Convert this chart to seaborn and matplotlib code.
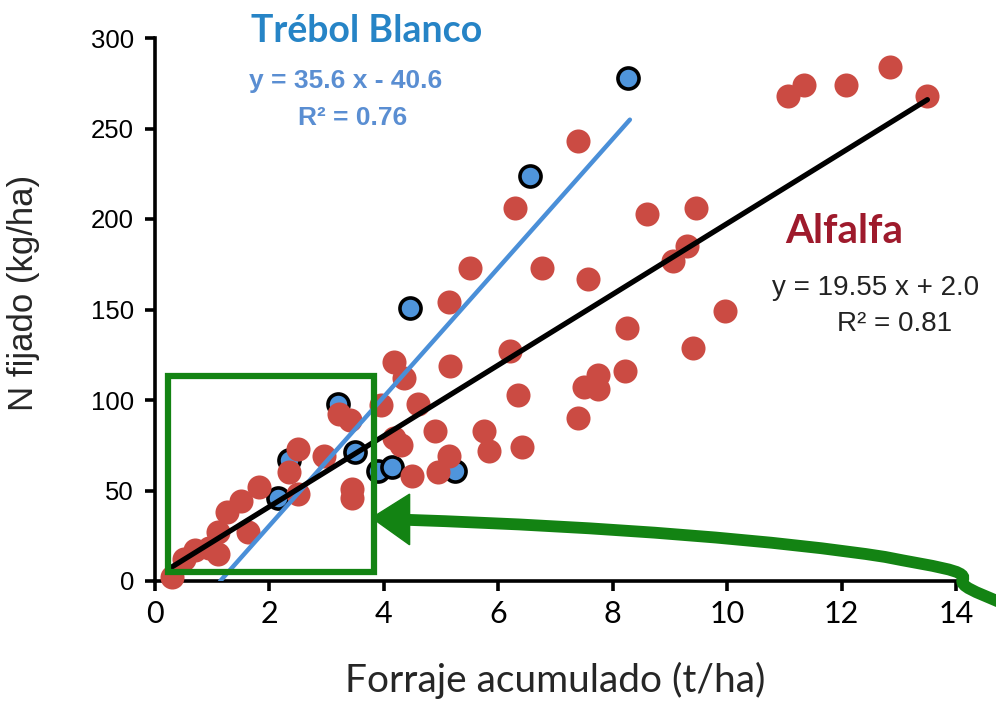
import numpy as np
import pandas as pd
import matplotlib
matplotlib.use("Agg")
import matplotlib.pyplot as plt
import seaborn as sns
from matplotlib.patches import Rectangle, Polygon, PathPatch
from matplotlib.path import Path

# ---------------- data ----------------
trebol_x = [2.15, 2.35, 3.2, 3.5, 3.9, 4.15, 4.45, 5.25, 6.55, 8.27]
trebol_y = [46, 67, 98, 71, 61, 63, 151, 61, 224, 278]

alfalfa_x = [0.3, 0.5, 0.7, 0.95, 1.1, 1.1, 1.25, 1.5, 1.62, 1.82,
             2.35, 2.5, 2.5, 2.95, 3.22, 3.4, 3.45, 3.45, 3.95, 4.17,
             4.35, 4.6, 4.17, 4.3, 4.5, 4.95, 5.13, 5.15, 5.13, 5.5,
             5.75, 5.83, 6.2, 6.3, 6.35, 6.42, 6.77, 7.4, 7.4, 7.5,
             7.57, 7.75, 7.75, 8.22, 8.25, 8.6, 9.05, 9.3, 9.45, 9.4,
             9.97, 11.07, 11.34, 12.08, 12.85, 13.5, 4.9]
alfalfa_y = [2, 12, 17, 18, 15, 27, 38, 44, 27, 52,
             60, 73, 48, 69, 92, 89, 51, 46, 97, 121,
             112, 98, 79, 75, 58, 60, 69, 119, 154, 173,
             83, 72, 127, 206, 103, 74, 173, 243, 90, 107,
             167, 114, 106, 116, 140, 203, 177, 185, 206, 129,
             149, 268, 274, 274, 284, 268, 83]

# regression equations shown on chart
trebol_slope, trebol_icpt, trebol_r2 = 35.6, -40.6, 0.76
trebol_range = [1.14, 8.3]
alfalfa_slope, alfalfa_icpt, alfalfa_r2 = 19.55, 2.0, 0.81
alfalfa_range = [0.3, 13.5]

x_ticks = [0, 2, 4, 6, 8, 10, 12, 14]
y_ticks = [0, 50, 100, 150, 200, 250, 300]

# ---------------- style ----------------
sns.set_theme(style="white")
plt.rcParams['font.family'] = ['Liberation Sans', 'DejaVu Sans']

RED = '#CB4B43'
BLUE_PT = '#4F95DC'
BLUE_LINE = '#4A8FD8'
GREEN = '#138313'

fig = plt.figure(figsize=(9.96, 7.02), dpi=100)
ax = fig.add_axes([155/996, 1 - 581/702, (956-155)/996, (581-38)/702])

df_t = pd.DataFrame({'x': trebol_x, 'y': trebol_y})
df_a = pd.DataFrame({'x': alfalfa_x, 'y': alfalfa_y})

sns.scatterplot(data=df_t, x='x', y='y', ax=ax, s=230, color=BLUE_PT,
                edgecolor='black', linewidth=2.6, zorder=3, clip_on=False)
sns.scatterplot(data=df_a, x='x', y='y', ax=ax, s=300, color=RED,
                edgecolor=RED, linewidth=0, alpha=1.0, zorder=4, clip_on=False)

tx = np.array(trebol_range)
ax_line_t = pd.DataFrame({'x': tx, 'y': trebol_slope * tx + trebol_icpt})
sns.lineplot(data=ax_line_t, x='x', y='y', ax=ax, color=BLUE_LINE, linewidth=3.2, zorder=5)
axx = np.array(alfalfa_range)
ax_line_a = pd.DataFrame({'x': axx, 'y': alfalfa_slope * axx + alfalfa_icpt})
sns.lineplot(data=ax_line_a, x='x', y='y', ax=ax, color='black', linewidth=3.8, zorder=6)

ax.set_xlim(0, 14)
ax.set_ylim(0, 300)
ax.set_xticks(x_ticks)
ax.set_yticks(y_ticks)
ax.set_xticklabels([str(t) for t in x_ticks], fontsize=22, family=['Lato', 'DejaVu Sans'])
ax.set_yticklabels([str(t) for t in y_ticks], fontsize=18.5)
for s in ['top', 'right']:
    ax.spines[s].set_visible(False)
for s in ['left', 'bottom']:
    ax.spines[s].set_linewidth(2.6)
    ax.spines[s].set_color('black')
ax.tick_params(axis='both', direction='out', length=7, width=2.6, color='black',
               labelcolor='black', bottom=True, left=True)
ax.tick_params(axis='x', pad=7)
ax.tick_params(axis='y', pad=8)
ax.set_xlabel('Forraje acumulado (t/ha)', fontsize=28, family=['Lato', 'DejaVu Sans'],
              labelpad=24)
ax.set_ylabel('N fijado (kg/ha)', fontsize=25, labelpad=14)
ax.yaxis.set_label_coords(-0.143, 0.53)
ax.set_facecolor('white')

# annotations
ax.text(3.7, 304, 'Trébol Blanco', color='#2684C6', fontsize=27, fontweight='bold',
        family=['Lato', 'DejaVu Sans'], ha='center', va='center', clip_on=False)
ax.text(3.33, 276, 'y = 35.6 x - 40.6', color='#5A8ED2', fontsize=19, fontweight='bold',
        ha='center', va='center')
ax.text(3.45, 256, 'R² = 0.76', color='#5A8ED2', fontsize=19, fontweight='bold',
        ha='center', va='center')
ax.text(12.05, 193, 'Alfalfa', color='#9E1A2C', fontsize=29, fontweight='bold',
        family=['Lato', 'DejaVu Sans'], ha='center', va='center')
ax.text(12.6, 162, 'y = 19.55 x + 2.0', color='#222222', fontsize=20,
        ha='center', va='center', clip_on=False)
ax.text(12.92, 142, 'R² = 0.81', color='#222222', fontsize=20,
        ha='center', va='center')

# green box
rect = Rectangle((0.22, 5), 3.6, 108, fill=False, edgecolor=GREEN, linewidth=4.5,
                 zorder=8, clip_on=False)
ax.add_patch(rect)

# green arrow
verts = [(14.75, -11.5), (14.35, -6.0), (14.05, -3.0), (14.12, 1.0),
         (14.2, 6.0), (13.6, 8.0), (12.76, 13.3),
         (11.0, 22.0), (8.0, 30.0), (4.4, 33.8)]
codes = [Path.MOVETO, Path.CURVE4, Path.CURVE4, Path.CURVE4,
         Path.CURVE4, Path.CURVE4, Path.CURVE4,
         Path.CURVE4, Path.CURVE4, Path.CURVE4]
shaft = PathPatch(Path(verts, codes), facecolor='none', edgecolor=GREEN,
                  linewidth=8.5, capstyle='butt', zorder=8, clip_on=False)
ax.add_patch(shaft)
head = Polygon([(3.79, 34.9), (4.45, 48.0), (4.45, 20.0)], closed=True,
               facecolor=GREEN, edgecolor=GREEN, zorder=9, clip_on=False)
ax.add_patch(head)

fig.savefig('out.png', dpi=100, facecolor='white')
